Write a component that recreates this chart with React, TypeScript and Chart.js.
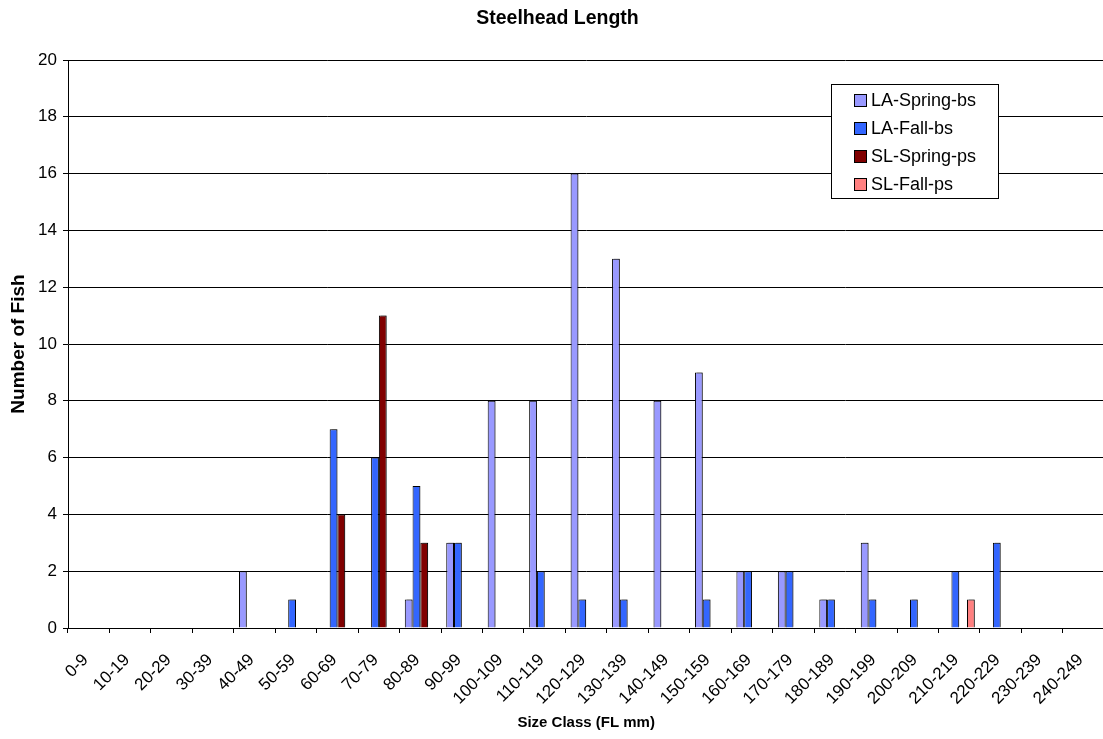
import React, { useEffect, useRef } from "react";
import { Chart, registerables } from "chart.js";

Chart.register(...registerables);

const FONT = '"Liberation Sans", Arial, sans-serif';

const categories = [
  "0-9", "10-19", "20-29", "30-39", "40-49", "50-59", "60-69", "70-79",
  "80-89", "90-99", "100-109", "110-119", "120-129", "130-139", "140-149",
  "150-159", "160-169", "170-179", "180-189", "190-199", "200-209",
  "210-219", "220-229", "230-239", "240-249",
];

const laSpringBs = [0, 0, 0, 0, 2, 0, 0, 0, 1, 3, 8, 8, 16, 13, 8, 9, 2, 2, 1, 3, 0, 0, 0, 0, 0];
const laFallBs = [0, 0, 0, 0, 0, 1, 7, 6, 5, 3, 0, 2, 1, 1, 0, 1, 2, 2, 1, 1, 1, 2, 3, 0, 0];
const slSpringPs = [0, 0, 0, 0, 0, 0, 4, 11, 3, 0, 0, 0, 0, 0, 0, 0, 0, 0, 0, 0, 0, 0, 0, 0, 0];
const slFallPs = [0, 0, 0, 0, 0, 0, 0, 0, 0, 0, 0, 0, 0, 0, 0, 0, 0, 0, 0, 0, 0, 1, 0, 0, 0];

const seriesNames = ["LA-Spring-bs", "LA-Fall-bs", "SL-Spring-ps", "SL-Fall-ps"];
const seriesColors = ["#9999FF", "#3366FF", "#800000", "#FF8080"];

const yMin = 0;
const yMax = 20;
const yStep = 2;

const barShadow = {
  id: "barShadow",
  beforeDatasetsDraw(chart: any) {
    const ctx = chart.ctx;
    ctx.save();
    ctx.shadowColor = "rgba(0,0,0,0.28)";
    ctx.shadowOffsetX = 2;
    ctx.shadowOffsetY = -1;
    ctx.shadowBlur = 0;
  },
  afterDatasetsDraw(chart: any) {
    chart.ctx.restore();
  },
};

const boxLegend = {
  id: "boxLegend",
  afterDraw(chart: any) {
    const ctx = chart.ctx;
    ctx.save();
    const x0 = 831.5;
    const y0 = 84.5;
    const w = 167;
    const h = 114;
    ctx.fillStyle = "#ffffff";
    ctx.fillRect(x0, y0, w, h);
    ctx.strokeStyle = "#000000";
    ctx.lineWidth = 1;
    ctx.strokeRect(x0, y0, w, h);
    ctx.font = `18px ${FONT}`;
    ctx.textBaseline = "middle";
    ctx.textAlign = "left";
    chart.data.datasets.forEach((ds: any, i: number) => {
      const cy = 100 + i * 28.1;
      const sy = Math.round(cy - 6.5);
      ctx.fillStyle = ds.backgroundColor;
      ctx.fillRect(854, sy, 13, 13);
      ctx.strokeStyle = "#000000";
      ctx.strokeRect(854.5, sy + 0.5, 12, 12);
      ctx.fillStyle = "#000000";
      ctx.fillText(ds.label, 871, cy + 1);
    });
    ctx.restore();
  },
};

export default function App() {
  const canvasRef = useRef<HTMLCanvasElement | null>(null);

  useEffect(() => {
    if (!canvasRef.current) return;
    const datasets = [laSpringBs, laFallBs, slSpringPs, slFallPs].map((d, i) => ({
      label: seriesNames[i],
      data: d,
      backgroundColor: seriesColors[i],
      borderColor: "#000000",
      borderWidth: 1,
      categoryPercentage: 0.75,
      barPercentage: 1.0,
    }));

    const chart = new Chart(canvasRef.current, {
      type: "bar",
      data: { labels: categories, datasets },
      plugins: [barShadow, boxLegend],
      options: {
        responsive: false,
        animation: false,
        layout: { padding: 0 },
        plugins: {
          legend: { display: false },
          tooltip: { enabled: false },
          title: {
            display: true,
            text: "Steelhead Length",
            color: "#000",
            font: { family: FONT, size: 19.5, weight: "bold" },
            padding: { top: 7, bottom: 29.6 },
          },
        },
        scales: {
          x: {
            offset: true,
            afterFit(scale: any) {
              scale.height = 111;
            },
            grid: {
              display: true,
              offset: true,
              drawOnChartArea: false,
              drawTicks: true,
              tickLength: 5,
              color: "#000",
              tickColor: "#000",
            },
            border: { display: true, color: "#000", width: 1 },
            ticks: {
              autoSkip: false,
              maxRotation: 45,
              minRotation: 45,
              padding: 17,
              labelOffset: -3,
              color: "#000",
              font: { family: FONT, size: 17 },
            },
            title: {
              display: true,
              text: "Size Class (FL mm)",
              color: "#000",
              font: { family: FONT, size: 15, weight: "bold" },
              padding: { top: 0, bottom: 7 },
            },
          },
          y: {
            min: yMin,
            max: yMax,
            afterFit(scale: any) {
              scale.width = 68;
            },
            grid: {
              display: true,
              drawTicks: true,
              tickLength: 5,
              color: "#000",
              tickColor: "#000",
              lineWidth: 1,
            },
            border: { display: true, color: "#000", width: 1 },
            ticks: {
              stepSize: yStep,
              padding: 6,
              color: "#000",
              font: { family: FONT, size: 17 },
            },
            title: {
              display: true,
              text: "Number of Fish",
              color: "#000",
              font: { family: FONT, size: 19, weight: "bold" },
              padding: { top: 7, bottom: 0 },
            },
          },
        },
      },
    });
    return () => chart.destroy();
  }, []);

  return (
    <div
      style={{
        position: "fixed",
        left: 0,
        top: 0,
        width: 1103,
        height: 739,
        overflow: "hidden",
        background: "#fff",
      }}
    >
      <canvas
        ref={canvasRef}
        width={1115}
        height={739}
        style={{ width: 1115, height: 739, display: "block" }}
      />
    </div>
  );
}
